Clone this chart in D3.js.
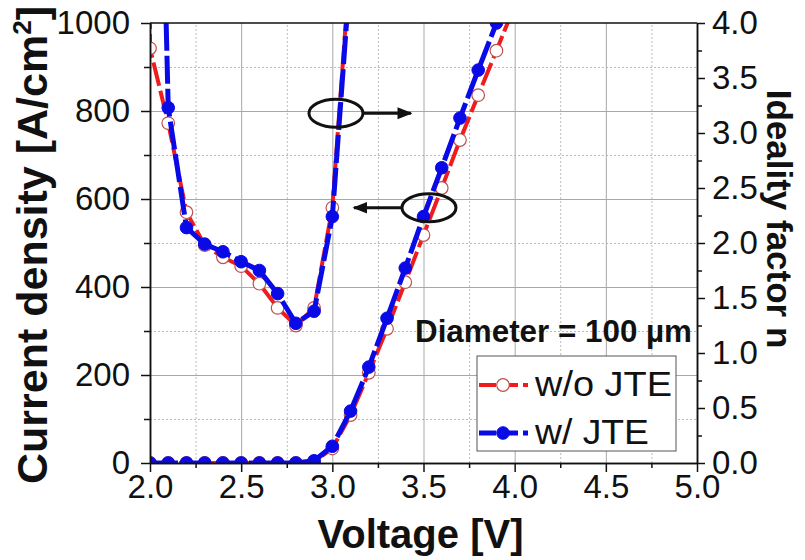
<!DOCTYPE html>
<html lang="en">
<head>
<meta charset="UTF-8">
<title>JTE current density</title>
<script src="https://cdn.jsdelivr.net/npm/d3@7/dist/d3.min.js"></script>
<style>
  body { margin: 0; background: #fff; }
  svg { display: block; font-family: "Liberation Sans", Arial, sans-serif; }
  .grid .domain { display: none; }
  .grid-major line { stroke: #a8a8a8; stroke-width: 1; }
  .grid-minor line { stroke: #bababa; stroke-width: 1; stroke-dasharray: 2,2; }
  .axis path, .axis line { stroke: #111; stroke-width: 1.5; }
  .axis text { font-family: "Liberation Sans", Arial, sans-serif; font-size: 33px; fill: #111; }
  .title { font-weight: bold; fill: #111; }
  .line-red { fill: none; stroke: #ee1c1c; stroke-width: 4; stroke-dasharray: 24,5; }
  .line-blue { fill: none; stroke: #0a0ae6; stroke-width: 5; stroke-dasharray: 28,5; }
  .dot-red { fill: #fff; stroke: #c0504d; stroke-width: 1.2; }
  .dot-blue { fill: #0a0ae6; stroke: #0a0ae6; stroke-width: 1; }
</style>
</head>
<body>
<svg width="805" height="560"></svg>
<script>
// current density data (left axis)
var voltage = [2.0, 2.1, 2.2, 2.3, 2.4, 2.5, 2.6, 2.7, 2.8, 2.9, 3.0, 3.1, 3.2, 3.3, 3.4, 3.5, 3.6, 3.7, 3.8, 3.9, 4.0];
var jNoJte = [0, 0, 0, 0, 0, 0, 0, 0, 0, 3, 33, 109, 205, 305, 411, 518, 625, 734, 836, 937, 1040];
var jJte   = [0, 0, 0, 0, 0, 0, 0, 0, 0, 5, 38, 118, 218, 329, 443, 560, 671, 784, 893, 1000, 1110];

// ideality factor data (right axis)
var nVoltage = [1.9, 2.0, 2.1, 2.2, 2.3, 2.4, 2.5, 2.6, 2.7, 2.8, 2.9, 3.0, 3.1];
var nNoJte = [30, 3.77, 3.09, 2.28, 1.98, 1.87, 1.79, 1.63, 1.41, 1.25, 1.41, 2.32, 4.6];
var nJte   = [null, 10.0, 3.23, 2.14, 1.99, 1.92, 1.83, 1.75, 1.54, 1.27, 1.38, 2.24, 4.5];

var xTicks = [2.0, 2.5, 3.0, 3.5, 4.0, 4.5, 5.0];
var xMinor = [2.25, 2.75, 3.25, 3.75, 4.25, 4.75];
var jTicks = [0, 200, 400, 600, 800, 1000];
var jMinor = [100, 300, 500, 700, 900];
var nTicks = [0, 0.5, 1.0, 1.5, 2.0, 2.5, 3.0, 3.5, 4.0];
var nMinor = [0.25, 0.75, 1.25, 1.75, 2.25, 2.75, 3.25, 3.75];
var legendLabels = ['w/o JTE', 'w/ JTE'];

var svg = d3.select('svg'),
    pLeft = 150, pRight = 697, pTop = 23, pBottom = 463;

var x = d3.scaleLinear().domain([2, 5]).range([pLeft, pRight]),
    yJ = d3.scaleLinear().domain([0, 1000]).range([pBottom, pTop]),
    yN = d3.scaleLinear().domain([0, 4]).range([pBottom, pTop]);

svg.append('clipPath').attr('id', 'plot-clip')
  .append('rect')
    .attr('x', pLeft).attr('y', pTop)
    .attr('width', pRight - pLeft).attr('height', pBottom - pTop);

// grid, drawn as tick lines spanning the plot
svg.append('g').attr('class', 'grid grid-minor')
  .attr('transform', 'translate(0,' + pBottom + ')')
  .call(d3.axisBottom(x).tickValues(xMinor).tickFormat('').tickSize(-(pBottom - pTop)));
svg.append('g').attr('class', 'grid grid-minor')
  .attr('transform', 'translate(' + pLeft + ',0)')
  .call(d3.axisLeft(yJ).tickValues(jMinor).tickFormat('').tickSize(-(pRight - pLeft)));
svg.append('g').attr('class', 'grid grid-major')
  .attr('transform', 'translate(0,' + pBottom + ')')
  .call(d3.axisBottom(x).tickValues(xTicks.slice(1, -1)).tickFormat('').tickSize(-(pBottom - pTop)));
svg.append('g').attr('class', 'grid grid-major')
  .attr('transform', 'translate(' + pLeft + ',0)')
  .call(d3.axisLeft(yJ).tickValues(jTicks.slice(1, -1)).tickFormat('').tickSize(-(pRight - pLeft)));

// series
var plot = svg.append('g').attr('clip-path', 'url(#plot-clip)');

function drawSeries(xs, ys, yScale, lineCls, dotCls) {
  var pts = xs.map((v, i) => [v, ys[i]]).filter(p => p[1] != null);
  var line = d3.line().x(d => x(d[0])).y(d => yScale(d[1]));
  plot.append('path').datum(pts).attr('class', lineCls).attr('d', line);
  plot.selectAll(null).data(pts).enter().append('circle')
    .attr('class', dotCls)
    .attr('cx', d => x(d[0])).attr('cy', d => yScale(d[1]))
    .attr('r', 6.3);
}

drawSeries(voltage, jNoJte, yJ, 'line-red', 'dot-red');
drawSeries(nVoltage, nNoJte, yN, 'line-red', 'dot-red');
drawSeries(voltage, jJte, yJ, 'line-blue', 'dot-blue');
drawSeries(nVoltage, nJte, yN, 'line-blue', 'dot-blue');

// axes
var fmt1 = d3.format('.1f');
svg.append('g').attr('class', 'axis')
  .attr('transform', 'translate(0,' + pBottom + ')')
  .call(d3.axisBottom(x).tickValues(xTicks).tickFormat(fmt1).tickSize(9).tickSizeOuter(0).tickPadding(3));
svg.append('g').attr('class', 'axis')
  .attr('transform', 'translate(0,' + pBottom + ')')
  .call(d3.axisBottom(x).tickValues(xMinor).tickFormat('').tickSize(5).tickSizeOuter(0));

svg.append('g').attr('class', 'axis')
  .attr('transform', 'translate(' + pLeft + ',0)')
  .call(d3.axisLeft(yJ).tickValues(jTicks).tickFormat(d3.format('d')).tickSize(9).tickSizeOuter(0).tickPadding(11));
svg.append('g').attr('class', 'axis')
  .attr('transform', 'translate(' + pLeft + ',0)')
  .call(d3.axisLeft(yJ).tickValues(jMinor).tickFormat('').tickSize(6).tickSizeOuter(0));

svg.append('g').attr('class', 'axis')
  .attr('transform', 'translate(' + pRight + ',0)')
  .call(d3.axisRight(yN).tickValues(nTicks).tickFormat(fmt1).tickSize(8).tickSizeOuter(0).tickPadding(7));
svg.append('g').attr('class', 'axis')
  .attr('transform', 'translate(' + pRight + ',0)')
  .call(d3.axisRight(yN).tickValues(nMinor).tickFormat('').tickSize(5).tickSizeOuter(0));

svg.selectAll('.axis').attr('font-size', null).attr('font-family', null);

svg.append('line')
  .attr('x1', pLeft).attr('x2', pRight).attr('y1', pTop).attr('y2', pTop)
  .attr('stroke', '#111').attr('stroke-width', 1.5);

// titles
svg.append('text').attr('class', 'title')
  .attr('x', (pLeft + pRight) / 2 - 3).attr('y', 548)
  .attr('text-anchor', 'middle').attr('font-size', 40)
  .text('Voltage [V]');

var yTitle = svg.append('text').attr('class', 'title')
  .attr('transform', 'translate(47,245) rotate(-90)')
  .attr('text-anchor', 'middle').attr('font-size', 43);
yTitle.append('tspan').text('Current density [A/cm');
yTitle.append('tspan').attr('font-size', 26).attr('dy', -16).text('2');
yTitle.append('tspan').attr('dy', 16).text(']');

svg.append('text').attr('class', 'title')
  .attr('transform', 'translate(767,219) rotate(90)')
  .attr('text-anchor', 'middle').attr('font-size', 35)
  .text('Ideality factor n');

// annotations: ellipses with arrows
var defs = svg.append('defs');
defs.append('marker').attr('id', 'arrow')
  .attr('viewBox', '0 0 10 10').attr('refX', 9).attr('refY', 5)
  .attr('markerWidth', 5).attr('markerHeight', 5).attr('orient', 'auto')
  .append('path').attr('d', 'M0,1 L10,5 L0,9 Z').attr('fill', '#111');

var notes = [
  {v: 3.02, val: 3.18, scale: yN, dir: 1},
  {v: 3.53, val: 580, scale: yJ, dir: -1}
];
notes.forEach(function(n) {
  var cx = x(n.v), cy = n.scale(n.val);
  svg.append('ellipse')
    .attr('cx', cx).attr('cy', cy).attr('rx', 27).attr('ry', 14)
    .attr('fill', 'none').attr('stroke', '#111').attr('stroke-width', 3);
  svg.append('line')
    .attr('x1', cx + n.dir * 27).attr('y1', cy)
    .attr('x2', cx + n.dir * 75).attr('y2', cy)
    .attr('stroke', '#111').attr('stroke-width', 3)
    .attr('marker-end', 'url(#arrow)');
});

// diameter label
svg.append('text')
  .attr('x', 415).attr('y', 342)
  .attr('font-size', 31).attr('font-weight', 'bold').attr('fill', '#111')
  .attr('textLength', 277).attr('lengthAdjust', 'spacingAndGlyphs')
  .text('Diameter = 100 \u00b5m');

// legend
var lg = svg.append('g');
lg.append('rect')
  .attr('x', 477).attr('y', 356).attr('width', 199).attr('height', 95)
  .attr('fill', '#fff').attr('stroke', '#555').attr('stroke-width', 1);

var legendStyles = [
  {line: 'line-red', dot: 'dot-red', width: 137},
  {line: 'line-blue', dot: 'dot-blue', width: 114}
];
legendLabels.forEach(function(label, i) {
  var yy = 385 + i * 48;
  lg.append('line').attr('class', legendStyles[i].line)
    .attr('x1', 479).attr('x2', 528).attr('y1', yy).attr('y2', yy)
    .style('stroke-dasharray', '17,5');
  lg.append('circle').attr('class', legendStyles[i].dot)
    .attr('cx', 503).attr('cy', yy).attr('r', 6.3);
  lg.append('text')
    .attr('x', 535).attr('y', yy + 11)
    .attr('font-size', 35).attr('fill', '#111')
    .attr('textLength', legendStyles[i].width).attr('lengthAdjust', 'spacingAndGlyphs')
    .text(label);
});
</script>
</body>
</html>
